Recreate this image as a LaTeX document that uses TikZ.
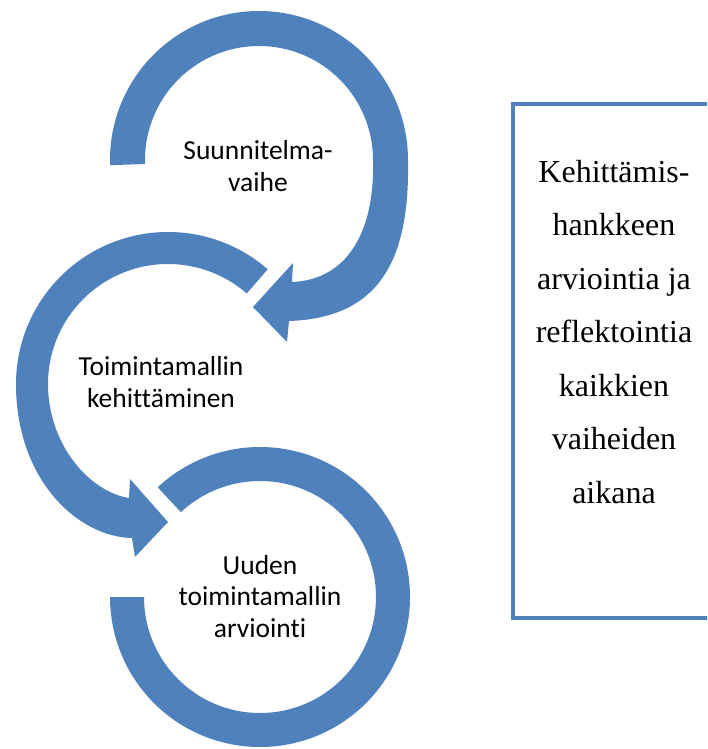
\documentclass[tikz,border=0pt]{standalone}
\usepackage{fontspec}
\setmainfont{Liberation Serif}
\newfontfamily\labelfont{Carlito}[Ligatures=NoCommon]
\usetikzlibrary{calc}
\definecolor{accent}{RGB}{79,129,189}

\begin{document}
\begin{tikzpicture}[x=1pt,y=-1pt,
  ring/.style={fill=accent},
  phase/.style={font=\labelfont\fontsize{27.5}{31.5}\selectfont, align=center, anchor=base, inner sep=0pt},
  note/.style={font=\fontsize{32}{53.5}\selectfont, align=center, anchor=base, inner sep=0pt},
  frame/.style={draw=accent, line width=4pt, inner sep=0pt}]
\useasboundingbox (0,0) rectangle (707,749);
\clip (0,0) rectangle (707,749);

\coordinate (c1) at (259,160);
\coordinate (c2) at (168,384);
\coordinate (c3) at (260,597);

% upper circular arrow, clockwise, head pointing down-left
\fill[ring] ($(c1)+(178:149)$) arc[start angle=178, end angle=360, radius=149]
  .. controls (410,262) and (378,318) .. (289,321)
  -- (287,342) -- (253,307) -- (293,263) -- (292,282)
  .. controls (345,280) and (375,235) .. (373,160)
  arc[start angle=0, end angle=-182, radius=114] -- cycle;

% middle circular arrow, counter-clockwise, head pointing down-right
\fill[ring] ($(c2)+(-49:152)$) arc[start angle=-49, end angle=-180, radius=152]
  .. controls (16,480) and (78,537) .. (132,538)
  -- (135,557) -- (168,522) -- (130,479) -- (129,498)
  .. controls (90,492) and (48,445) .. (48,384)
  arc[start angle=180, end angle=311, radius=120] -- cycle;

% lower ring, clockwise, open end on the left
\fill[ring] ($(c3)+(-133:150)$) arc[start angle=-133, end angle=180, radius=150]
  -- ($(c3)+(180:116)$) arc[start angle=180, end angle=-133, radius=116] -- cycle;

% anchor=base sits on the last line of each label
\node[phase] (plan) at (258,191) {Suunnitelma-\\vaihe};
\node[phase] (develop) at (161,407) {Toimintamallin\\kehittäminen};
\node[phase] (evaluate) at (260,637) {Uuden\\toimintamallin\\arviointi};

% side panel
\node[frame, minimum width=220pt, minimum height=513.5pt] (panel) at (622.5,361.25) {};
\node[note] (reflect) at (614,503) {Kehittämis-\\hankkeen\\arviointia ja\\reflektointia\\kaikkien\\vaiheiden\\aikana};
\end{tikzpicture}
\end{document}
